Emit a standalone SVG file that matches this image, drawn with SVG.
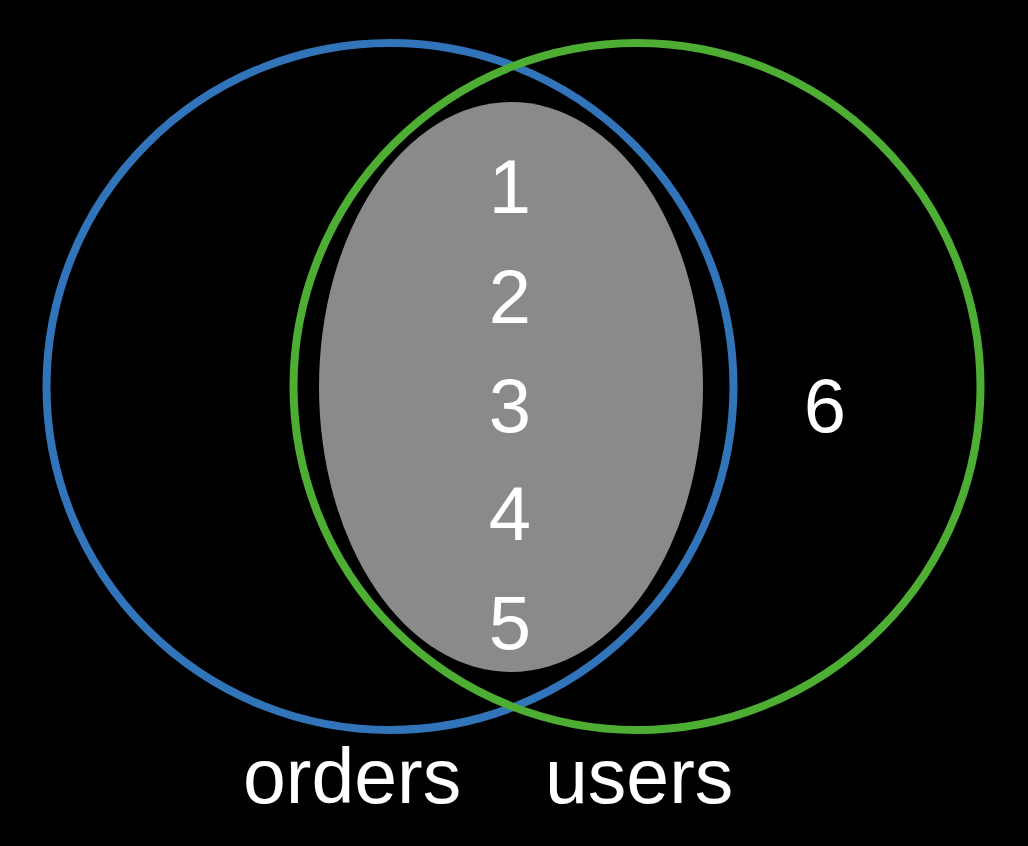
<svg xmlns="http://www.w3.org/2000/svg" width="1028" height="846" viewBox="0 0 1028 846">
<style>
.set{fill:none;stroke-width:8}
.num{font-family:"Liberation Sans",Arial,sans-serif;font-size:76px;fill:#fff;text-anchor:middle}
.lbl{font-family:"Liberation Sans",Arial,sans-serif;font-size:77px;fill:#fff}
</style>
<rect width="1028" height="846" fill="#000"/>
<g id="intersection">
<ellipse cx="511" cy="387" rx="192" ry="285" fill="#8a8a8a"/>
</g>
<g id="orders">
<circle class="set" cx="390" cy="386.5" r="343.5" stroke="#3174b9"/>
</g>
<g id="users">
<circle class="set" cx="637" cy="386.5" r="343.5" stroke="#4dae33"/>
</g>
<g id="labels">
<text class="num" x="510" y="213">1</text>
<text class="num" x="510" y="323">2</text>
<text class="num" x="510" y="432">3</text>
<text class="num" x="510" y="540">4</text>
<text class="num" x="510" y="649">5</text>
<text class="num" x="825" y="432">6</text>
<text class="lbl" x="243" y="803">orders</text>
<text class="lbl" x="545" y="803">users</text>
</g>
</svg>
